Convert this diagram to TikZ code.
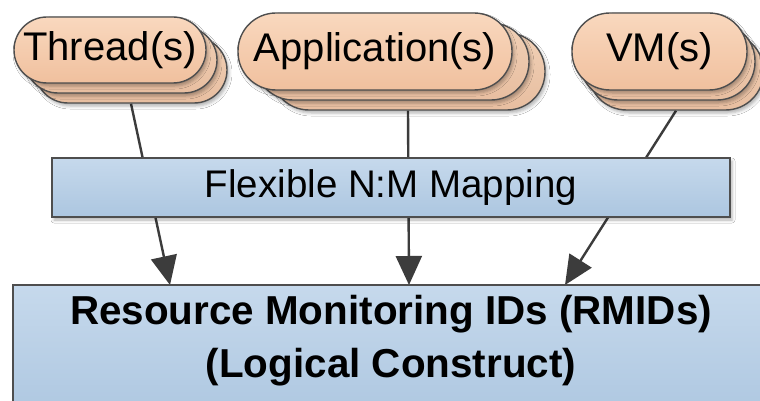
\documentclass[tikz,border=0pt]{standalone}
\usepackage{fontspec}
\setmainfont{Liberation Sans}
\usetikzlibrary{arrows.meta,shadows.blur}
\pgfdeclarelayer{bg}
\pgfsetlayers{bg,main}

\definecolor{peachtop}{RGB}{249,216,190}
\definecolor{peachbot}{RGB}{240,192,158}
\definecolor{peachbacktop}{RGB}{240,208,182}
\definecolor{peachbackbot}{RGB}{232,190,160}
\definecolor{bluetop}{RGB}{198,217,236}
\definecolor{bluebot}{RGB}{172,198,224}
\definecolor{edgegray}{RGB}{78,78,78}
\definecolor{linegray}{RGB}{60,60,60}

\tikzset{
  softshadow/.style={blur shadow={shadow xshift=2pt, shadow yshift=-3pt,
      shadow blur radius=3pt, shadow opacity=30}},
  pill/.style={draw=edgegray, line width=1.4pt, top color=peachtop,
      bottom color=peachbot, inner sep=0pt, softshadow,
      font=\fontsize{40}{48}\selectfont},
  pillback/.style={pill, top color=peachbacktop, bottom color=peachbackbot},
  bluebox/.style={draw=edgegray, line width=1.4pt, top color=bluetop,
      bottom color=bluebot, inner sep=0pt, softshadow},
  conn/.style={draw=linegray, line width=2.4pt,
      -{Triangle[length=29pt, width=26pt]}}
}

\begin{document}
\begin{tikzpicture}[x=1pt, y=-1pt]
  \clip (0,0) rectangle (760,401);

  % Thread(s) stack
  \node[pillback, minimum width=192pt, minimum height=66pt, rounded corners=33pt] (thr3) at (131,70) {};
  \node[pillback, minimum width=192pt, minimum height=66pt, rounded corners=33pt] (thr2) at (121,60) {};
  \node[pill, minimum width=192pt, minimum height=66pt, rounded corners=33pt] (thr1) at (110,50) {Thread(s)};

  % Application(s) stack
  \node[pillback, minimum width=274pt, minimum height=77pt, rounded corners=38pt] (app3) at (408,71.5) {};
  \node[pillback, minimum width=274pt, minimum height=77pt, rounded corners=38pt] (app2) at (392,61.5) {};
  \node[pill, minimum width=274pt, minimum height=77pt, rounded corners=38pt] (app1) at (375,51.5) {Application(s)};

  % VM(s) stack
  \node[pillback, minimum width=175pt, minimum height=77pt, rounded corners=38pt] (vm3) at (676,71.5) {};
  \node[pillback, minimum width=175pt, minimum height=77pt, rounded corners=38pt] (vm2) at (667.5,61.5) {};
  \node[pill, minimum width=175pt, minimum height=77pt, rounded corners=38pt] (vm1) at (659.5,51.5) {VM(s)};

  % mapping layer
  \node[bluebox, minimum width=678pt, minimum height=59pt,
        font=\fontsize{38.5}{44}\selectfont] (map) at (391,187.5) {Flexible N:M Mapping};

  % RMID block (runs off the right and bottom edges)
  \node[bluebox, minimum width=764pt, minimum height=140pt] (rmid) at (395,355) {};
  \node[align=center, anchor=north, inner sep=0pt,
        font=\bfseries\fontsize{40.4}{53}\selectfont] (rmidtext) at (391,295)
        {Resource Monitoring IDs (RMIDs)\\(Logical Construct)};

  % arrow targets on the top edge of the RMID block
  \coordinate (t1) at (170,285);
  \coordinate (t2) at (409,285);
  \coordinate (t3) at (565,285);

  \begin{pgfonlayer}{bg}
    \fill[white] (0,0) rectangle (760,401);
    \draw[conn] (thr3.south) -- (t1);
    \draw[conn] (app3.south) -- (t2);
    \draw[conn] (vm3.south) -- (t3);
  \end{pgfonlayer}
\end{tikzpicture}
\end{document}
